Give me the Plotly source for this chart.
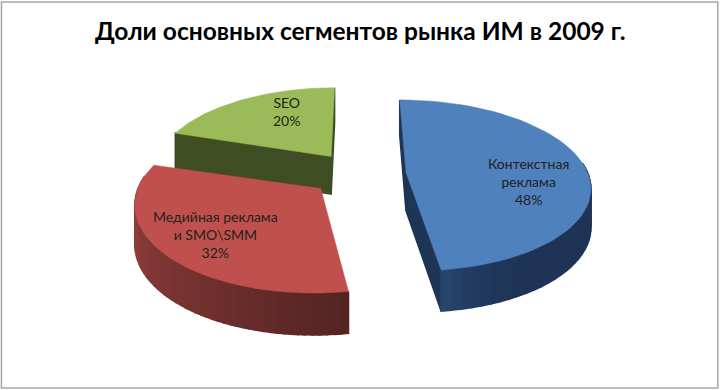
import math
import plotly.graph_objects as go

TITLE = "Доли основных сегментов рынка ИМ в 2009 г."
SEGMENTS = ["Контекстная<br>реклама", "Медийная реклама<br>и SMO\\SMM", "SEO"]
SHARES = [48, 32, 20]
TOP_COLORS = ["#4F81BD", "#C0504D", "#9BBB59"]
SIDE_START = [(30, 52, 86), (84, 36, 34), (78, 94, 46)]
SIDE_END = [(44, 76, 120), (165, 72, 69), (62, 78, 34)]
SIDE_POWER = [22, 1, 1]
WALL_COLORS = ["#1F3556", "#5A2725", "#3F4E22"]
DRAW_WALLS = [True, False, True]
LABEL_XY = [(528, 181), (215, 234), (286, 111)]

XV, YV, B, K, EXPLODE, DEPTH = 358, 174, 84, 0.15, 0.265, 38
A_BY_SLICE = [182, 178, 178]
TURN_BY_SLICE = [0.0, -2.0, 0.0]


def project(X, Y, a):
    s = 1 / (1 + K * Y)
    return XV + a * X * s, YV - B * Y * s, DEPTH * s ** 0.5


def poly(xs, ys, color, width=1.6):
    return go.Scatter(x=xs, y=ys, mode="lines", fill="toself", fillcolor=color,
                      line=dict(color=color, width=width), hoverinfo="skip", showlegend=False)


def quad(p, q, color):
    xp, yp, dp = p
    xq, yq, dq = q
    return poly([xp, xq, xq, xp, xp], [yp, yq, yq + dq, yp + dp, yp], color)


def mix(c0, c1, t):
    return "rgb(%d,%d,%d)" % tuple(round(a + (b - a) * t) for a, b in zip(c0, c1))


fig = go.Figure()
total = sum(SHARES)
spans = []
angle = 0.0
for share in SHARES:
    sweep = 360 * share / total
    spans.append((angle, angle + sweep))
    angle += sweep

for i in (2, 1, 0):
    t0, t1 = spans[i]
    mid = math.radians((t0 + t1) / 2)
    ox, oy = EXPLODE * math.sin(mid), EXPLODE * math.cos(mid)
    n = 60
    turn = TURN_BY_SLICE[i]
    angles = [math.radians(t0 + turn + (t1 - t0) * j / n) for j in range(n + 1)]
    rim = [project(ox + math.sin(a), oy + math.cos(a), A_BY_SLICE[i]) for a in angles]
    centre = project(ox, oy, A_BY_SLICE[i])
    # radial walls first, then front-facing rim quads, then the top face
    if DRAW_WALLS[i]:
        fig.add_trace(quad(centre, rim[0], WALL_COLORS[i]))
        fig.add_trace(quad(centre, rim[-1], WALL_COLORS[i]))
    order = sorted(range(n), key=lambda j: rim[j][1])
    for j in order:
        if math.cos(angles[j]) < 0.12:
            t = j / n
            fig.add_trace(quad(rim[j], rim[j + 1], mix(SIDE_START[i], SIDE_END[i], t ** SIDE_POWER[i])))
    xs = [centre[0]] + [p[0] for p in rim] + [centre[0]]
    ys = [centre[1]] + [p[1] for p in rim] + [centre[1]]
    fig.add_trace(poly(xs, ys, TOP_COLORS[i], width=0.5))

annotations = [
    dict(x=x, y=y, xref="x", yref="y", showarrow=False, align="center",
         text=f"{name}<br>{share}%", font=dict(family="Lato, Noto Sans, sans-serif", size=14, color="#222222"))
    for name, share, (x, y) in zip(SEGMENTS, SHARES, LABEL_XY)
]
annotations.append(dict(x=360, y=30, xref="x", yref="y", showarrow=False, text=f"<b>{TITLE}</b>",
                        font=dict(family="Lato, Noto Sans, sans-serif", size=24.5, color="#000000")))

fig.update_layout(
    width=720, height=390, margin=dict(l=0, r=0, t=0, b=0),
    paper_bgcolor="white", plot_bgcolor="white",
    xaxis=dict(range=[0, 720], visible=False, fixedrange=True),
    yaxis=dict(range=[390, 0], visible=False, fixedrange=True),
    annotations=annotations,
    shapes=[dict(type="rect", xref="paper", yref="paper", x0=0.002, x1=0.997, y0=0.005, y1=0.995,
                 line=dict(color="#A6A6A6", width=1.5), fillcolor="rgba(0,0,0,0)")],
)
fig.write_html("out.html", config={"displayModeBar": False},
               post_script="document.body.style.margin='0';document.documentElement.style.overflow='hidden';")
